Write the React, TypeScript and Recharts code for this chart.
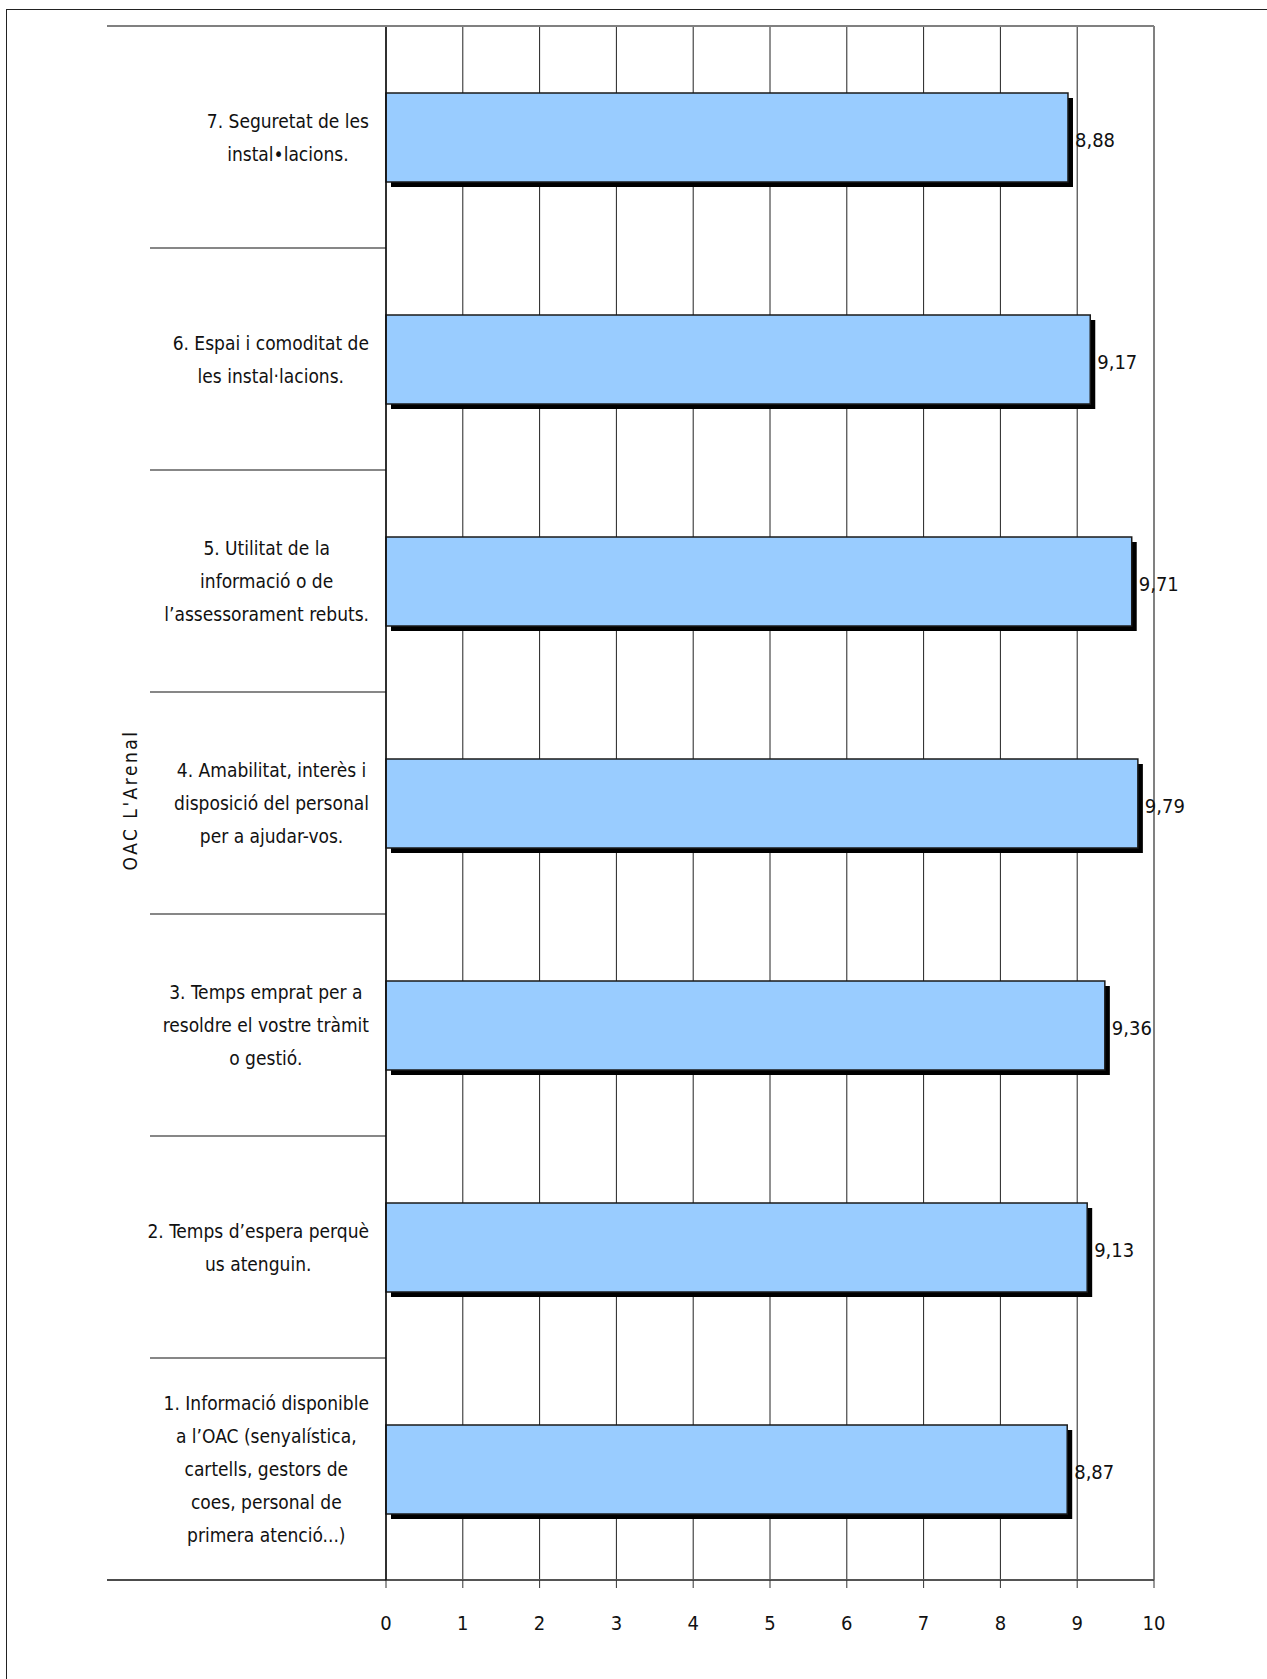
import React from "react";
import {
  BarChart,
  Bar,
  XAxis,
  YAxis,
  CartesianGrid,
  ReferenceLine,
  LabelList,
} from "recharts";

// survey items, bottom to top (item 1 sits at the bottom of the chart)
const itemLines: string[][] = [
  [
    "1. Informació disponible",
    "a l’OAC (senyalística,",
    "cartells, gestors de",
    "coes, personal de",
    "primera atenció...)",
  ],
  ["2. Temps d’espera perquè", "us atenguin."],
  ["3. Temps emprat per a", "resoldre el vostre tràmit", "o gestió."],
  ["4. Amabilitat, interès i", "disposició del personal", "per a ajudar-vos."],
  ["5. Utilitat de la", "informació o de", "l’assessorament rebuts."],
  ["6. Espai i comoditat de", "les instal·lacions."],
  ["7. Seguretat de les", "instal•lacions."],
];
const itemScores = [8.87, 9.13, 9.36, 9.79, 9.71, 9.17, 8.88];
const scaleTicks = [0, 1, 2, 3, 4, 5, 6, 7, 8, 9, 10];
const axisTitle = "OAC L'Arenal";

const data = itemLines.map((lines, i) => ({
  item: lines.join(" "),
  score: itemScores[i],
}));

const FONT = "'Liberation Sans Narrow', 'DejaVu Sans Condensed', 'Open Sans', sans-serif";
const W = 1267;
const H = 1679;
const M_TOP = 26;
const M_RIGHT = 113;
const M_BOTTOM = 39;
const X_AXIS_H = 60;
const Y_AXIS_W = 386;
const PLOT_H = H - M_TOP - M_BOTTOM - X_AXIS_H;
const BAND = PLOT_H / itemLines.length;
const PLOT_RIGHT = W - M_RIGHT;
const LABEL_SIZE = 19;
const LINE_H = 33;
const LABEL_RIGHT = 369;

let ctx: CanvasRenderingContext2D | null = null;
function textWidth(s: string) {
  if (!ctx) {
    ctx = document.createElement("canvas").getContext("2d");
  }
  if (!ctx) return s.length * LABEL_SIZE * 0.42;
  ctx.font = `${LABEL_SIZE}px ${FONT}`;
  return ctx.measureText(s).width;
}

function ItemTick(props: any) {
  const { y, index } = props;
  const lines = itemLines[index];
  const widest = Math.max(...lines.map(textWidth));
  const cx = LABEL_RIGHT - widest / 2;
  const first = y - ((lines.length - 1) * LINE_H) / 2;
  const bottom = y + BAND / 2;
  const top = y - BAND / 2;
  return (
    <g>
      {index === 0 ? (
        <line x1={107} x2={Y_AXIS_W} y1={bottom} y2={bottom} stroke="#111" strokeWidth={1.5} />
      ) : (
        <line x1={150} x2={Y_AXIS_W} y1={bottom} y2={bottom} stroke="#111" strokeWidth={1.2} />
      )}
      {index === itemLines.length - 1 && (
        <line x1={107} x2={PLOT_RIGHT} y1={top} y2={top} stroke="#808080" strokeWidth={2} />
      )}
      <text
        x={cx}
        textAnchor="middle"
        fontFamily={FONT}
        fontSize={LABEL_SIZE}
        fill="#111"
      >
        {lines.map((l, i) => (
          <tspan key={i} x={cx} y={first + i * LINE_H} dominantBaseline="central">
            {l}
          </tspan>
        ))}
      </text>
    </g>
  );
}

function ShadowBar(props: any) {
  const { x, y, width, height } = props;
  return (
    <g>
      <rect x={x + 5} y={y + 5} width={width} height={height} fill="#000" />
      <rect
        x={x}
        y={y}
        width={width}
        height={height}
        fill="#99CCFF"
        stroke="#1a1a1a"
        strokeWidth={1.5}
      />
    </g>
  );
}

function ScoreLabel(props: any) {
  const { x, y, width, height, value } = props;
  return (
    <text
      x={x + width + 7}
      y={y + height / 2 + 2}
      fontFamily={FONT}
      fontSize={20}
      fill="#111"
      dominantBaseline="central"
    >
      {Number(value).toFixed(2).replace(".", ",")}
    </text>
  );
}

export default function App() {
  return (
    <div
      style={{
        position: "absolute",
        left: 0,
        top: 0,
        width: W,
        height: H,
        background: "#fff",
        overflow: "hidden",
      }}
    >
      <div
        style={{
          position: "absolute",
          left: 6,
          top: 9,
          width: W + 40,
          height: H + 40,
          borderLeft: "1.5px solid #222",
          borderTop: "1.5px solid #222",
        }}
      />
      <div style={{ position: "absolute", left: 0, top: 0 }}>
        <BarChart
          width={W}
          height={H}
          data={data}
          layout="vertical"
          barSize={89}
          margin={{ top: M_TOP, right: M_RIGHT, bottom: M_BOTTOM, left: 0 }}
        >
          <CartesianGrid horizontal={false} stroke="#222" strokeWidth={1} />
          <XAxis
            type="number"
            domain={[0, 10]}
            ticks={scaleTicks}
            interval={0}
            height={X_AXIS_H}
            tickSize={8}
            tickMargin={28}
            axisLine={{ stroke: "#555", strokeWidth: 2 }}
            tickLine={{ stroke: "#333" }}
            tick={{ fontFamily: FONT, fontSize: 20, fill: "#111" }}
          />
          <YAxis
            type="category"
            dataKey="item"
            reversed
            width={Y_AXIS_W}
            interval={0}
            tickLine={false}
            axisLine={{ stroke: "#111", strokeWidth: 1.5 }}
            tick={<ItemTick />}
            label={{
              content: () => (
                <text
                  x={130}
                  y={800}
                  transform="rotate(-90 130 800)"
                  textAnchor="middle"
                  dominantBaseline="central"
                  fontFamily={FONT}
                  fontSize={19}
                  letterSpacing={2.5}
                  fill="#111"
                >
                  {axisTitle}
                </text>
              ),
            }}
          />
          <ReferenceLine x={10} stroke="#808080" strokeWidth={2} />
          <Bar dataKey="score" shape={<ShadowBar />} isAnimationActive={false}>
            <LabelList dataKey="score" content={<ScoreLabel />} />
          </Bar>
        </BarChart>
      </div>
    </div>
  );
}
